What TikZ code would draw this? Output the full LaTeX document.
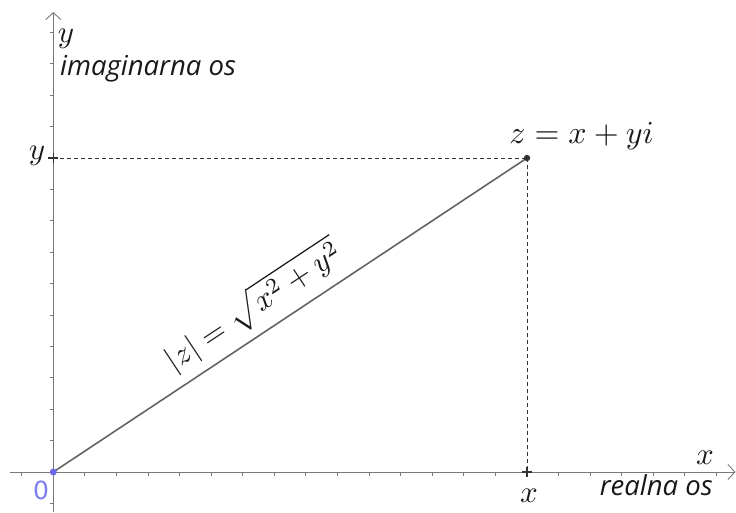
\documentclass[tikz,border=0pt]{standalone}
\usepackage{fontspec}
\usepackage{graphicx}
\newfontfamily\lblfont{Open Sans}
\newfontfamily\zerofont{DejaVu Sans}
\usetikzlibrary{arrows.meta,calc}
\definecolor{axisgray}{RGB}{120,120,120}
\definecolor{seggray}{RGB}{100,100,100}
\definecolor{dashgray}{RGB}{50,50,50}
\definecolor{origblue}{RGB}{105,105,230}
\definecolor{zeroblue}{RGB}{125,125,240}
\definecolor{txt}{RGB}{25,25,25}
\newcommand{\lgmath}[1]{\scalebox{3.1}{$#1$}}
\tikzset{
  axis/.style={draw=axisgray, line width=0.9pt, -{Straight Barb[length=7pt,width=15pt,line width=0.9pt]}},
  tick/.style={draw=axisgray, line width=0.9pt},
  crossmark/.style={draw=dashgray, line width=1.1pt},
  guide/.style={draw=dashgray, line width=0.9pt, dash pattern=on 4pt off 3pt},
  seg/.style={draw=seggray, line width=1.6pt},
  mathlbl/.style={text=txt, inner sep=0pt},
  wordlbl/.style={text=txt, inner sep=0pt, font=\lblfont\itshape\fontsize{27.5}{30}\selectfont},
}
\begin{document}
\begin{tikzpicture}[x=1pt,y=-1pt]
\useasboundingbox (0,0) rectangle (736,512);
\coordinate (O) at (53.3,472);
\coordinate (Z) at (527,158);
\coordinate (Xl) at (10,472);
\coordinate (Xr) at (735.5,472);
\coordinate (Yb) at (53.3,512);
\coordinate (Yt) at (53.3,12);
\coordinate (Px) at (527,472);
\coordinate (Py) at (53.3,158);
% ticks
\foreach \k in {-1,1,2,...,21} {
  \draw[tick] (53.3+\k*31.58,472) -- ++(0,3.5);
}
\foreach \k in {-1,1,2,...,14} {
  \draw[tick] (53.3,472-\k*31.4) -- ++(-3.5,0);
}
% axes
\draw[axis] (Xl) -- (Xr);
\draw[axis] (Yb) -- (Yt);
% guides
\draw[guide] (Py) -- (Z);
\draw[guide] (Z) -- (Px);
% cross marks
\draw[crossmark] ($(Px)+(-5,0)$) -- ($(Px)+(5,0)$);
\draw[crossmark] ($(Px)+(0,-5)$) -- ($(Px)+(0,5)$);
\draw[crossmark] ($(Py)+(-5,0)$) -- ($(Py)+(5,0)$);
\draw[crossmark] ($(Py)+(0,-5)$) -- ($(Py)+(0,5)$);
% segment
\draw[seg] (O) -- (Z) node[pos=0.455, sloped, anchor=south, mathlbl, yshift=8pt] (modlbl) {\lgmath{|z| = \sqrt{x^2+y^2}}};
% points
\fill[dashgray] (Z) circle (3.2pt);
\fill[origblue] (O) circle (3.5pt);
% labels
\node[mathlbl] (ylblTop) at (66,39) {\lgmath{y}};
\node[wordlbl, anchor=base west] (imlbl) at (60,75) {imaginarna os};
\node[mathlbl] (ylblLeft) at (37,156) {\lgmath{y}};
\node[mathlbl, anchor=base] (zlbl) at (581.5,143) {\scalebox{3.2}{$z = x + yi$}};
\node[mathlbl] (xlblRight) at (705,458) {\lgmath{x}};
\node[wordlbl, anchor=base east] (relbl) at (713,495) {realna os};
\node[mathlbl] (xlblBottom) at (529,496) {\lgmath{x}};
\node[text=zeroblue, inner sep=0pt, font=\zerofont\fontsize{25}{27}\selectfont] (zerolbl) at (41,490) {0};
\end{tikzpicture}
\end{document}
